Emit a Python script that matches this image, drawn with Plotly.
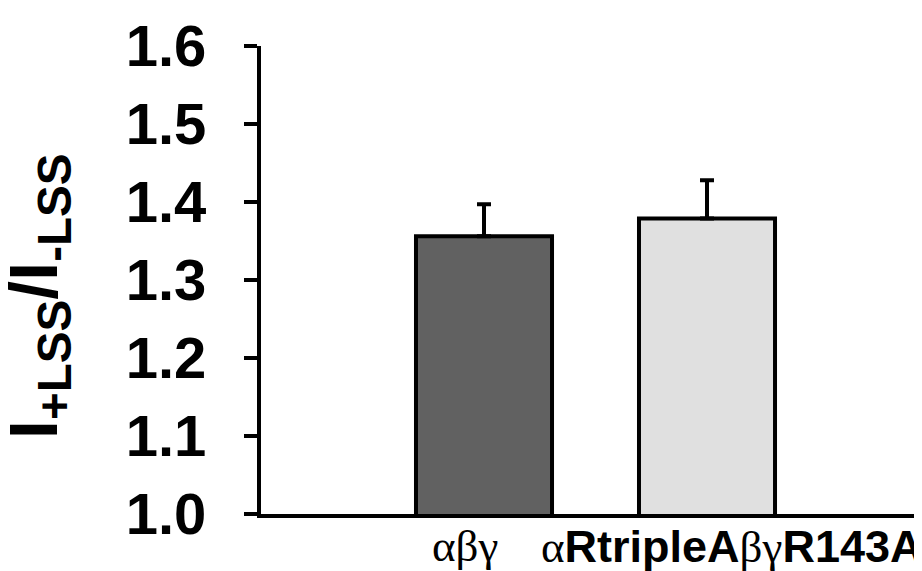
import plotly.graph_objects as go

# Data
categories = ["αβγ", "αRtripleAβγR143A"]
values = [1.356, 1.379]
errors = [0.041, 0.049]
bar_colors = ["#616161", "#e0e0e0"]
y_ticks = [1.0, 1.1, 1.2, 1.3, 1.4, 1.5, 1.6]
y_ticklabels = ["1.0", "1.1", "1.2", "1.3", "1.4", "1.5", "1.6"]
y_title = "I<sub>+LSS</sub>/I<sub>-LSS</sub>"

SERIF = "font-family:'Liberation Serif','Times New Roman',serif;font-weight:normal"

def fmt_label(s):
    out = []
    for ch in s:
        if ch in "αβγ":
            out.append(f"<span style=\"{SERIF}\">{ch}</span>")
        else:
            out.append(ch)
    return "".join(out)

xpos = [i + 1 for i in range(len(categories))]

fig = go.Figure()
fig.add_trace(go.Bar(
    x=xpos, y=values,
    width=0.61,
    marker=dict(color=bar_colors, line=dict(color="black", width=4)),
    error_y=dict(type="data", array=errors, arrayminus=[0] * len(errors),
                 symmetric=False, color="black", thickness=4, width=7),
    showlegend=False,
))

label_shift = [-19, 24]
for xp, cat, sh in zip(xpos, categories, label_shift):
    fig.add_annotation(
        x=xp, y=0, xref="x", yref="paper", yanchor="top", yshift=-5,
        xshift=sh, text=fmt_label(cat), showarrow=False,
        font=dict(family="Liberation Sans, Arial", size=45, color="black", weight="bold"),
    )

fig.add_annotation(
    x=-0.399, y=0.464, xref="paper", yref="paper", xanchor="left", yanchor="middle",
    text=y_title, textangle=-90, showarrow=False, borderpad=0,
    font=dict(family="Liberation Sans, Arial", size=68, color="black", weight="bold"),
)

fig.update_layout(
    width=922, height=571,
    margin=dict(l=253, r=0, t=38, b=65),
    plot_bgcolor="white", paper_bgcolor="white",
)
fig.update_xaxes(
    range=[0, 3], showline=True, linecolor="black", linewidth=4,
    showticklabels=False, ticks="", showgrid=False, zeroline=False,
)
fig.update_yaxes(
    range=[1.0, 1.6], tickvals=y_ticks, ticktext=y_ticklabels,
    showline=True, linecolor="black", linewidth=4,
    ticks="outside", ticklen=13, tickwidth=4, tickcolor="black",
    ticklabelstandoff=26,
    tickfont=dict(family="Liberation Sans, Arial", size=58, color="black", weight="bold"),
    showgrid=False, zeroline=False,
)

fig.write_html("out.html")
